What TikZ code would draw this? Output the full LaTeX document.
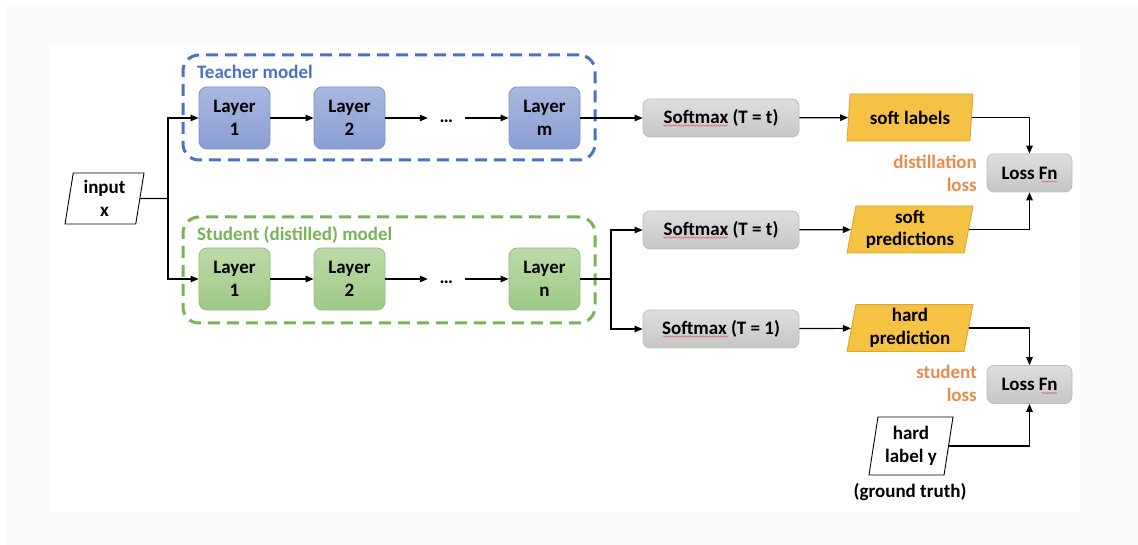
\documentclass[tikz,border=0pt]{standalone}
\usepackage{fontspec}
\setmainfont{Carlito}
\usetikzlibrary{shapes.geometric,arrows.meta,decorations.pathmorphing,calc}
\definecolor{outerbg}{HTML}{FAFAFA}
\definecolor{tTop}{HTML}{A9B8E0}
\definecolor{tBot}{HTML}{8A9ED4}
\definecolor{tLine}{HTML}{7E93CB}
\definecolor{sTop}{HTML}{BCDAA9}
\definecolor{sBot}{HTML}{9EC985}
\definecolor{sLine}{HTML}{93BE78}
\definecolor{gTop}{HTML}{DEDEDE}
\definecolor{gBot}{HTML}{C6C6C6}
\definecolor{gLine}{HTML}{BEBEBE}
\definecolor{yFill}{HTML}{F5C243}
\definecolor{yLine}{HTML}{DDA82A}
\definecolor{tDash}{HTML}{4A71C3}
\definecolor{sDash}{HTML}{7AB356}
\definecolor{lossTxt}{HTML}{E88B4C}
\definecolor{spell}{HTML}{E06060}
\begin{document}
\begin{tikzpicture}[x=1pt,y=-1pt,
  font=\fontsize{19}{22.5}\selectfont\bfseries,
  every node/.style={align=center, inner sep=0pt},
  arr/.style={-{Triangle[length=8pt,width=6.5pt]}, line width=1.2pt},
  ln/.style={line width=1.2pt},
  tlayer/.style={draw=tLine, line width=0.8pt, rounded corners=8pt, top color=tTop, bottom color=tBot, minimum width=71pt, minimum height=62pt},
  slayer/.style={draw=sLine, line width=0.8pt, rounded corners=8pt, top color=sTop, bottom color=sBot, minimum width=71pt, minimum height=62pt},
  graybox/.style={draw=gLine, line width=0.8pt, rounded corners=7pt, top color=gTop, bottom color=gBot, minimum height=38pt},
  para/.style={trapezium, trapezium left angle=77, trapezium right angle=103, trapezium stretches body, line width=0.9pt},
  ypara/.style={para, draw=yLine, fill=yFill, minimum width=126pt, minimum height=47pt},
  wpara/.style={para, draw=black, fill=white},
  dotnode/.style={minimum width=37pt, minimum height=10pt},
  tbox/.style={draw=tDash, line width=3pt, dash pattern=on 12pt off 7pt, rounded corners=16pt},
  sbox/.style={draw=sDash, line width=3pt, dash pattern=on 12pt off 7pt, rounded corners=16pt},
  losslbl/.style={text=lossTxt, align=right, anchor=east},
  squiggle/.style={draw=spell, line width=0.5pt, decorate, decoration={snake, amplitude=0.7pt, segment length=3pt}}
]
\useasboundingbox (0,0) rectangle (1138,545);
\fill[outerbg] (6,5) rectangle (1138,545);
\fill[white] (49,45) rectangle (1080,512);

% containers
\node[tbox, minimum width=412pt, minimum height=105pt] (TB) at (389,107.5) {};
\node[sbox, minimum width=412pt, minimum height=106pt] (SB) at (389,270) {};
\node[text=tDash, anchor=west] (TBl) at (197,72) {Teacher model};
\node[text=sDash, anchor=west] (SBl) at (197,235) {Student (distilled) model};

% input
\node[wpara, minimum width=79pt, minimum height=51pt] (in) at (104.5,198.5) {input\\x};
\coordinate (split) at (168,198.5);

% teacher layers
\node[tlayer] (T1) at (234.5,118) {Layer\\1};
\node[tlayer] (T2) at (349.5,118) {Layer\\2};
\node[dotnode] (Td) at (446.5,118) {\raisebox{-5pt}[0pt][0pt]{\ldots}};
\node[tlayer] (Tm) at (544.5,118) {Layer\\m};

% student layers
\node[slayer] (S1) at (234.5,279) {Layer\\1};
\node[slayer] (S2) at (349.5,279) {Layer\\2};
\node[dotnode] (Sd) at (446.5,279) {\raisebox{-5pt}[0pt][0pt]{\ldots}};
\node[slayer] (Sn) at (544.5,279) {Layer\\n};
\coordinate (br) at (611,279);

% softmax
\node[graybox, minimum width=156pt] (M1) at (721,118) {Softmax (T = t)};
\node[graybox, minimum width=156pt] (M2) at (721,230) {Softmax (T = t)};
\node[graybox, minimum width=156pt] (M3) at (721,329) {Softmax (T = 1)};

% outputs
\node[ypara] (P1) at (910,117.5) {soft labels};
\node[ypara] (P2) at (910,229.5) {soft\\predictions};
\node[ypara] (P3) at (910,328) {hard\\prediction};
\node[wpara, minimum width=84pt, minimum height=58pt] (HL) at (911,446) {hard\\label y};
\node (GT) at (910,492) {(ground truth)};

% losses
\node[graybox, minimum width=85pt] (L1) at (1029.5,173) {Loss Fn};
\node[graybox, minimum width=85pt] (L2) at (1029.5,384.5) {Loss Fn};
\node[losslbl] (dl) at (977,173.5) {distillation\\loss};
\node[losslbl] (sl) at (977,383.5) {student\\loss};

% spell-check underlines
\foreach \m in {M1,M2,M3}{
  \path[squiggle] ($(\m.center)+(-58,7.5)$) -- ($(\m.center)+(7,7.5)$);
}
\foreach \l in {L1,L2}{
  \path[squiggle] ($(\l.center)+(12,8.5)$) -- ($(\l.center)+(28,8.5)$);
}

% connectors
\draw[ln] (in) -- (split);
\draw[arr] (split) |- (T1);
\draw[arr] (split) |- (S1);
\draw[arr] (T1) -- (T2);
\draw[arr] (T2) -- (Td);
\draw[arr] (Td) -- (Tm);
\draw[arr] (Tm) -- (M1);
\draw[arr] (S1) -- (S2);
\draw[arr] (S2) -- (Sd);
\draw[arr] (Sd) -- (Sn);
\draw[ln] (Sn) -- (br);
\draw[arr] (br) |- (M2);
\draw[arr] (br) |- (M3);
\draw[arr] (M1) -- (P1);
\draw[arr] (M2) -- (P2);
\draw[arr] (M3) -- (P3);
\draw[arr] (P1) -| (L1);
\draw[arr] (P2) -| (L1);
\draw[arr] (P3) -| (L2);
\draw[arr] (HL) -| (L2);
\end{tikzpicture}
\end{document}
